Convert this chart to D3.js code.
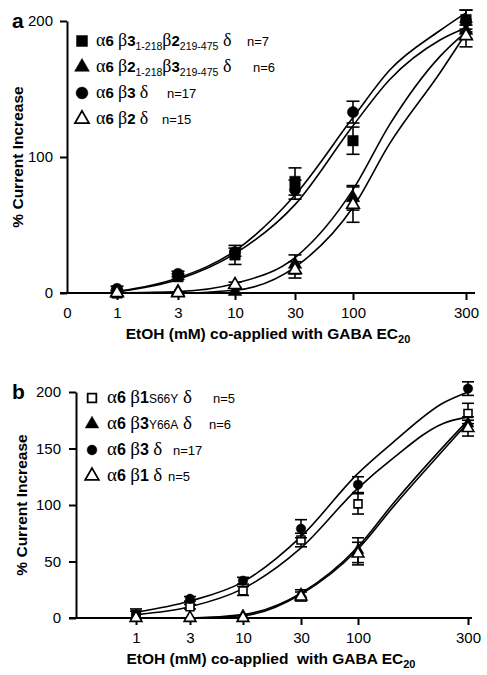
<!DOCTYPE html>
<html><head><meta charset="utf-8">
<script src="https://cdn.jsdelivr.net/npm/d3@7"></script>
<style>
body{margin:0;background:#fff}
svg text{font-family:"Liberation Sans",Arial,sans-serif;fill:#000}
</style></head><body>
<svg id="c" width="487" height="675"></svg>
<script>
// ---------- data ----------
const conc = [1, 3, 10, 30, 100, 300];
const xTickLabelsA = ["0", "1", "3", "10", "30", "100", "300"];
const xTickLabelsB = ["1", "3", "10", "30", "100", "300"];
const yTicksA = [0, 100, 200];
const yTicksB = [0, 50, 100, 150, 200];
const fitConc = [1, 3, 10, 30, 100, 143, 233, 300];

// panel a (means, SEM)
const aB3B2 = [0, 12, 28, 82, 112, 201];      const aB3B2Err = [2, 2, 7, 10, 10, 7];
const aB2B3 = [0, 1, 1, 21, 70, 193];         const aB2B3Err = [1, 1, 1, 7, 9, 6];
const aB3 = [3, 14, 30, 76, 133, 200];        const aB3Err = [2, 2, 3, 7, 8, 8];
const aB2 = [0, 0, 6, 17, 65, 189];           const aB2Err = [1, 1, 2, 6, 13, 8];
// panel a fitted curves read at fitConc
const aFitB3 = [1, 11, 31, 72, 129, 164, 193, 206];
const aFitB3B2 = [1, 10, 29, 65, 123, 157, 186, 195];
const aFitB2B3 = [0, 1, 7, 26, 76, 124, 174, 192];
const aFitB2 = [0, 0, 2, 19, 63, 110, 162, 191];

// panel b
const bS66Y = [3, 10, 24, 69, 101, 181];      const bS66YErr = [5, 2, 4, 6, 9, 9];
const bY66A = [0, 0, 2, 21, 60, 172];         const bY66AErr = [1, 1, 1, 4, 11, 6];
const bB3 = [3, 17, 33, 79, 118, 203];        const bB3Err = [3, 2, 3, 8, 7, 6];
const bB1 = [0, 0, 0, 19, 57, 168];           const bB1Err = [1, 1, 1, 4, 10, 7];
const bFitB3 = [5, 15, 32, 72, 128, 156, 190, 200];
const bFitS66Y = [3, 10, 26, 62, 115, 142, 172, 178];
const bFitY66A = [0, 0, 3, 22, 63, 102, 151, 175];
const bFitB1 = [0, 0, 2, 21, 61, 99, 148, 173];

// ---------- drawing ----------
const svg = d3.select("#c");
const L = Math.log10;

function panel(cfg) {
  const g = svg.append("g");
  const x = d3.scaleLinear()
    .domain(cfg.xDomain)
    .range(cfg.xRange);
  const y = d3.scaleLinear().domain([0, 200]).range([cfg.y0, cfg.y200]);
  const px = c => x(L(c));

  // curves
  const line = d3.line().x(d => px(d[0])).y(d => y(d[1])).curve(d3.curveMonotoneX);
  cfg.fits.forEach(f => {
    g.append("path").datum(fitConc.map((c, i) => [c, f[i]]))
      .attr("d", line).attr("fill", "none").attr("stroke", "#000").attr("stroke-width", 1.6);
  });

  // y axis
  const ya = g.append("g").attr("transform", `translate(${cfg.axX},0)`)
    .call(d3.axisLeft(y).tickValues(cfg.yTicks).tickSize(7).tickSizeOuter(0).tickPadding(cfg.yPad));
  ya.selectAll("path,line").attr("stroke", "#000").attr("stroke-width", 2);
  ya.selectAll("text").style("font-size", "15px").attr("fill", "#000");

  // x axis
  const xa = g.append("g").attr("transform", `translate(0,${cfg.y0})`)
    .call(d3.axisBottom(x).tickValues(cfg.xTickVals).tickSize(7).tickPadding(7)
      .tickFormat((d, i) => cfg.xTickLabels[i]));
  xa.select(".domain").remove();
  xa.selectAll("line").attr("stroke", "#000").attr("stroke-width", 2);
  xa.selectAll("text").style("font-size", "15px").attr("fill", "#000");
  if (cfg.zeroTick) xa.selectAll(".tick").filter(d => d === -1).select("line").remove();
  g.append("line").attr("x1", cfg.xLine[0]).attr("x2", cfg.xLine[1])
    .attr("y1", cfg.y0).attr("y2", cfg.y0).attr("stroke", "#000").attr("stroke-width", 2);

  // series
  cfg.series.forEach(s => {
    const sg = g.append("g");
    s.mean.forEach((m, i) => {
      const cx = px(conc[i]);
      const e = s.err[i];
      if (e > 1.5) {
        sg.append("line").attr("x1", cx).attr("x2", cx).attr("y1", y(m - e)).attr("y2", y(m + e))
          .attr("stroke", "#000").attr("stroke-width", 1.6);
        [m - e, m + e].forEach(v => sg.append("line")
          .attr("x1", cx - cfg.cap).attr("x2", cx + cfg.cap).attr("y1", y(v)).attr("y2", y(v))
          .attr("stroke", "#000").attr("stroke-width", 1.6));
      }
      sg.append("path").attr("d", d3.symbol(s.sym, s.size)())
        .attr("transform", `translate(${cx},${y(m)})`)
        .attr("fill", s.open ? "#fff" : "#000").attr("stroke", "#000").attr("stroke-width", s.open ? 1.6 : 0.5);
    });
  });

  // legend
  cfg.legend.forEach((r, i) => {
    const ly = cfg.legY + i * cfg.legStep;
    const s = cfg.series[r.si];
    g.append("path").attr("d", d3.symbol(s.sym, s.legSize)())
      .attr("transform", `translate(${cfg.legMx},${ly - 5})`)
      .attr("fill", s.open ? "#fff" : "#000").attr("stroke", "#000").attr("stroke-width", s.open ? 1.8 : 0.5);
    const t = g.append("text").attr("x", cfg.legTx).attr("y", ly).style("white-space", "pre");
    let shift = 0;
    r.parts.forEach(p => {
      const sp = t.append("tspan").text(p[0]);
      let dy = 0;
      if (p[1] === "g") sp.style("font-family", "'Liberation Serif',serif").style("font-size", cfg.grSize + "px");
      else if (p[1] === "b") sp.style("font-weight", "bold").style("font-size", cfg.bdSize + "px");
      else if (p[1] === "s") { sp.style("font-size", "10.5px"); dy = 4; }
      else if (p[1] === "m") sp.style("font-size", "12px");
      if (dy !== shift) { sp.attr("dy", dy - shift); shift = dy; }
    });
    g.append("text").attr("x", r.nx).attr("y", ly).style("font-size", "13px").text(r.n);
  });

  // labels
  g.append("text").attr("x", 12).attr("y", cfg.y200 + 7).style("font-size", "21px").style("font-weight", "bold").text(cfg.letter);
  g.append("text").attr("transform", `translate(${cfg.yTitleX},${(cfg.y0 + cfg.y200) / 2}) rotate(-90)`)
    .attr("text-anchor", "middle").style("font-size", "15.5px").style("font-weight", "bold").text("% Current Increase");
  const xt = g.append("text").attr("x", cfg.xTitleX).attr("y", cfg.xTitleY).attr("text-anchor", "middle")
    .style("font-size", "15.5px").style("font-weight", "bold").style("white-space", "pre");
  xt.append("tspan").text(cfg.xTitle);
  xt.append("tspan").attr("dy", 4).style("font-size", "11px").text("20");
}

const sq = d3.symbolSquare, ci = d3.symbolCircle, tr = d3.symbolTriangle;

panel({
  letter: "a",
  xDomain: [-1, 0, L(3), 1, L(30), 2, L(300)],
  xRange: [67, 117, 178, 235, 295, 353, 466],
  xTickVals: [-1, 0, L(3), 1, L(30), 2, L(300)],
  xTickLabels: xTickLabelsA, zeroTick: true,
  xLine: [60, 475],
  y0: 293, y200: 21, axX: 67, yTicks: yTicksA, yPad: 7,
  cap: 6.5,
  fits: [aFitB3, aFitB3B2, aFitB2B3, aFitB2],
  series: [
    {mean: aB3B2, err: aB3B2Err, sym: sq, size: 110, legSize: 120, open: false},
    {mean: aB2B3, err: aB2B3Err, sym: tr, size: 80, legSize: 95, open: false},
    {mean: aB3, err: aB3Err, sym: ci, size: 100, legSize: 110, open: false},
    {mean: aB2, err: aB2Err, sym: tr, size: 70, legSize: 85, open: true}
  ],
  legY: 46, legStep: 26, legMx: 82, legTx: 96, grSize: 18, bdSize: 15,
  legend: [
    {si: 0, parts: [["α", "g"], ["6 ", "b"], ["β", "g"], ["3", "b"], ["1-218", "s"], ["β", "g"], ["2", "b"], ["219-475", "s"], [" δ", "g"]], n: "n=7", nx: 247},
    {si: 1, parts: [["α", "g"], ["6 ", "b"], ["β", "g"], ["2", "b"], ["1-218", "s"], ["β", "g"], ["3", "b"], ["219-475", "s"], [" δ", "g"]], n: "n=6", nx: 253},
    {si: 2, parts: [["α", "g"], ["6 ", "b"], ["β", "g"], ["3 ", "b"], ["δ", "g"]], n: "n=17", nx: 167},
    {si: 3, parts: [["α", "g"], ["6 ", "b"], ["β", "g"], ["2 ", "b"], ["δ", "g"]], n: "n=15", nx: 162}
  ],
  yTitleX: 23, xTitleX: 268, xTitleY: 339,
  xTitle: "EtOH (mM) co-applied with GABA EC"
});

panel({
  letter: "b",
  xDomain: [0, L(3), 1, L(30), 2, L(300)],
  xRange: [136, 190, 243, 301, 358, 468],
  xTickVals: [0, L(3), 1, L(30), 2, L(300)],
  xTickLabels: xTickLabelsB, zeroTick: false,
  xLine: [69, 472],
  y0: 618, y200: 392, axX: 76, yTicks: yTicksB, yPad: 8,
  cap: 6,
  fits: [bFitB3, bFitS66Y, bFitY66A, bFitB1],
  series: [
    {mean: bS66Y, err: bS66YErr, sym: sq, size: 64, legSize: 75, open: true},
    {mean: bY66A, err: bY66AErr, sym: tr, size: 60, legSize: 80, open: false},
    {mean: bB3, err: bB3Err, sym: ci, size: 70, legSize: 75, open: false},
    {mean: bB1, err: bB1Err, sym: tr, size: 60, legSize: 80, open: true}
  ],
  legY: 403, legStep: 26, legMx: 92, legTx: 107, grSize: 19, bdSize: 16,
  legend: [
    {si: 0, parts: [["α", "g"], ["6 ", "b"], ["β", "g"], ["1", "b"], ["S66Y", "m"], [" δ", "g"]], n: "n=5", nx: 213},
    {si: 1, parts: [["α", "g"], ["6 ", "b"], ["β", "g"], ["3", "b"], ["Y66A", "m"], [" δ", "g"]], n: "n=6", nx: 209},
    {si: 2, parts: [["α", "g"], ["6 ", "b"], ["β", "g"], ["3 ", "b"], ["δ", "g"]], n: "n=17", nx: 173},
    {si: 3, parts: [["α", "g"], ["6 ", "b"], ["β", "g"], ["1 ", "b"], ["δ", "g"]], n: "n=5", nx: 168}
  ],
  yTitleX: 27, xTitleX: 271, xTitleY: 664,
  xTitle: "EtOH (mM) co-applied  with GABA EC"
});
</script></body></html>
